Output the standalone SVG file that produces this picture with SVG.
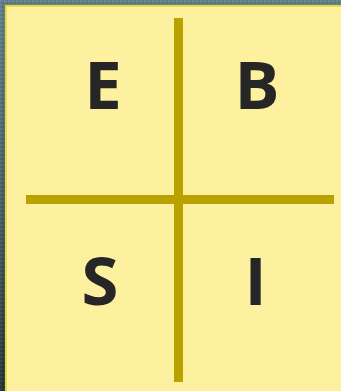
<svg xmlns="http://www.w3.org/2000/svg" width="341" height="391" viewBox="0 0 341 391">
  <defs>
    <linearGradient id="bg" x1="0" y1="0" x2="0" y2="1">
      <stop offset="0" stop-color="#5f7e89"/>
      <stop offset="0.5" stop-color="#475f69"/>
      <stop offset="1" stop-color="#26343a"/>
    </linearGradient>
    <pattern id="noise" width="4" height="4" patternUnits="userSpaceOnUse">
      <rect x="0" y="0" width="2" height="2" fill="#ffffff" opacity="0.08"/>
      <rect x="2" y="2" width="2" height="2" fill="#000000" opacity="0.08"/>
    </pattern>
    <style>
      .letter { font-family: "Open Sans", "Liberation Sans", sans-serif; font-weight: 700; font-size: 67px; fill: #262626; text-anchor: middle; }
      .line { fill: #b9a200; }
    </style>
  </defs>
  <rect x="0" y="0" width="341" height="391" fill="url(#bg)"/>
  <rect x="0" y="0" width="341" height="391" fill="url(#noise)"/>
  <rect id="board" x="6" y="6" width="340" height="390" fill="#fdf09f" stroke="#ecd93a" stroke-width="2"/>
  <g id="connectors">
    <rect class="line" x="174" y="18" width="9" height="364"/>
    <rect class="line" x="26" y="195" width="308" height="9"/>
  </g>
  <g id="node-E"><text class="letter" x="103" y="109">E</text></g>
  <g id="node-B"><text class="letter" x="257" y="109">B</text></g>
  <g id="node-S"><text class="letter" x="100" y="305">S</text></g>
  <g id="node-I"><text class="letter" x="255.5" y="305">I</text></g>
</svg>
